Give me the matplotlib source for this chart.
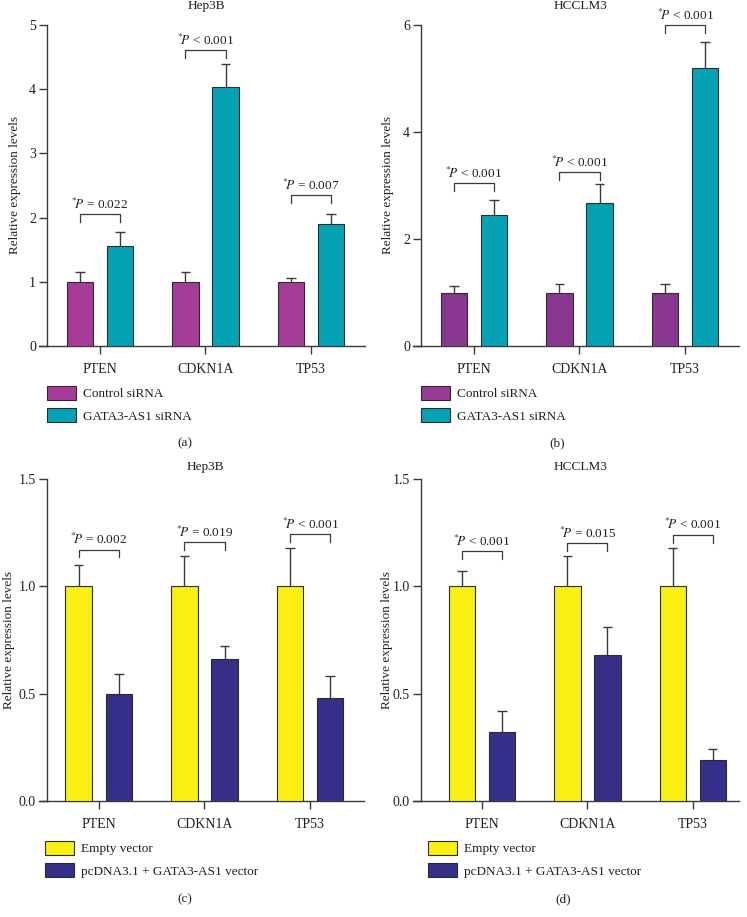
import numpy as np
import matplotlib.pyplot as plt

plt.rcParams['font.family'] = ['Liberation Serif', 'DejaVu Serif']
plt.rcParams['mathtext.fontset'] = 'stix'

genes = ['PTEN', 'CDKN1A', 'TP53']

# (a) Hep3B siRNA
a_ctrl = [1.0, 1.0, 1.0]
a_ctrl_sd = [0.15, 0.16, 0.06]
a_gata = [1.55, 4.03, 1.90]
a_gata_sd = [0.23, 0.37, 0.16]
a_brk = [2.05, 4.61, 2.35]
a_p = ['= 0.022', '< 0.001', '= 0.007']

# (b) HCCLM3 siRNA
b_ctrl = [1.0, 1.0, 1.0]
b_ctrl_sd = [0.13, 0.15, 0.165]
b_gata = [2.45, 2.67, 5.20]
b_gata_sd = [0.27, 0.35, 0.49]
b_brk = [3.05, 3.26, 6.0]
b_p = ['< 0.001', '< 0.001', '< 0.001']

# (c) Hep3B overexpression
c_empty = [1.0, 1.0, 1.0]
c_empty_sd = [0.10, 0.14, 0.18]
c_pc = [0.50, 0.66, 0.48]
c_pc_sd = [0.09, 0.06, 0.10]
c_brk = [1.17, 1.205, 1.242]
c_p = ['= 0.002', '= 0.019', '< 0.001']

# (d) HCCLM3 overexpression
d_empty = [1.0, 1.0, 1.0]
d_empty_sd = [0.07, 0.14, 0.18]
d_pc = [0.32, 0.68, 0.19]
d_pc_sd = [0.10, 0.13, 0.05]
d_brk = [1.163, 1.2, 1.238]
d_p = ['< 0.001', '= 0.015', '< 0.001']

W, H = 747, 917
fig = plt.figure(figsize=(W / 100, H / 100), dpi=100)

axcol = '#3a3a3a'
txtcol = '#231f20'


def px_axes(l, t, r, b):
    return fig.add_axes([l / W, 1 - b / H, (r - l) / W, (b - t) / H])


def ftext(x, y, s, **kw):
    return fig.text(x / W, 1 - y / H, s, ha='center', va='center', color=txtcol, **kw)


def panel(box, title, title_y, ylab_x, y1, y2, c1, c2, lab1, lab2, ymax, yticks, ytl,
          brk, leg, ptxt, xlim, leg_xy, letter, letter_xy, fmt):
    ax = px_axes(*box)
    x = np.arange(3)
    off, w = 0.19, 0.25
    b1 = ax.bar(x - off, y1[0], w, color=c1, edgecolor='#2b2b2b', lw=0.8, zorder=3, label=lab1)
    b2 = ax.bar(x + off, y2[0], w, color=c2, edgecolor='#2b2b2b', lw=0.8, zorder=3, label=lab2)
    for xs, (m, sd) in ((x - off, y1), (x + off, y2)):
        top = np.array(m) + np.array(sd)
        ax.vlines(xs, m, top, color=axcol, lw=1.0, zorder=2)
        ax.hlines(top, xs - 0.045, xs + 0.045, color=axcol, lw=1.0, zorder=2)
    for i in range(3):
        xl, xr = i - off, i + off
        yb = brk[i]
        ax.plot([xl, xl, xr, xr], [yb - leg, yb, yb, yb - leg], color=axcol, lw=0.9,
                clip_on=False)
        ax.text(i, yb + ptxt, r'$^{*}\!P$ ' + fmt[i], ha='center', va='center',
                fontsize=9.5, color=txtcol, clip_on=False)
    ax.set_xlim(*xlim)
    ax.set_ylim(0, ymax)
    ax.set_yticks(yticks)
    ax.set_yticklabels(ytl)
    ax.set_xticks(x)
    ax.set_xticklabels(genes)
    for s in ['top', 'right']:
        ax.spines[s].set_visible(False)
    for s in ['left', 'bottom']:
        ax.spines[s].set_color(axcol)
        ax.spines[s].set_linewidth(1.0)
    ax.plot([-0.025, 0], [0, 0], transform=ax.transAxes, color=axcol, lw=1.0, clip_on=False)
    ax.tick_params(axis='both', colors=axcol, labelcolor=txtcol, labelsize=10, width=1.0)
    ax.tick_params(axis='y', length=6, pad=2)
    ax.tick_params(axis='x', length=6, pad=6)
    ftext(ylab_x, (box[1] + box[3]) / 2, 'Relative expression levels', rotation=90,
          fontsize=9.5)
    ftext((box[0] + box[2]) / 2, title_y, title, fontsize=9.5)
    ax.legend(handles=[b1, b2], loc='upper left',
              bbox_to_anchor=(leg_xy[0] / W, 1 - leg_xy[1] / H),
              bbox_transform=fig.transFigure, frameon=False, fontsize=9.5,
              handlelength=2.2, handleheight=1.25, labelspacing=0.6,
              handletextpad=0.55, borderpad=0, borderaxespad=0, labelcolor=txtcol)
    ftext(letter_xy[0], letter_xy[1], letter, fontsize=9.5)
    return ax


mag_a = '#a63c97'
mag_b = '#8a3790'
teal = '#05a2b4'
yel = '#f9ef13'
navy = '#352f8a'

panel((47, 25, 365, 346), 'Hep3B', 6, 15, (a_ctrl, a_ctrl_sd), (a_gata, a_gata_sd), mag_a, teal,
      'Control siRNA', 'GATA3-AS1 siRNA', 5, [0, 1, 2, 3, 4, 5], ['0', '1', '2', '3', '4', '5'],
      a_brk, 0.12, 0.15, (-0.50, 2.51), (47, 386), '(a)', (185, 443), a_p)

ax_b = panel((421, 25, 739, 346), 'HCCLM3', 6, 388, (b_ctrl, b_ctrl_sd), (b_gata, b_gata_sd),
             mag_b, teal, 'Control siRNA', 'GATA3-AS1 siRNA', 6, [0, 2, 4, 6],
             ['0', '2', '4', '6'], b_brk, 0.15, 0.18, (-0.50, 2.51), (421, 386), '(b)',
             (557, 443), b_p)
ax_b.get_legend().legend_handles[0].set_facecolor('#9a3a95')

panel((47, 479, 364, 801), 'Hep3B', 467, 9, (c_empty, c_empty_sd), (c_pc, c_pc_sd), yel, navy,
      'Empty vector', 'pcDNA3.1 + GATA3-AS1 vector', 1.5, [0, 0.5, 1.0, 1.5],
      ['0.0', '0.5', '1.0', '1.5'], c_brk, 0.035, 0.048, (-0.49, 2.51), (45, 841),
      '(c)', (185, 899), c_p)

panel((421, 479, 739, 801), 'HCCLM3', 467, 387, (d_empty, d_empty_sd), (d_pc, d_pc_sd), yel,
      navy, 'Empty vector', 'pcDNA3.1 + GATA3-AS1 vector', 1.5, [0, 0.5, 1.0, 1.5],
      ['0.0', '0.5', '1.0', '1.5'], d_brk, 0.035, 0.048, (-0.58, 2.44), (428, 841),
      '(d)', (563, 899), d_p)

fig.savefig('out.png', dpi=100)
